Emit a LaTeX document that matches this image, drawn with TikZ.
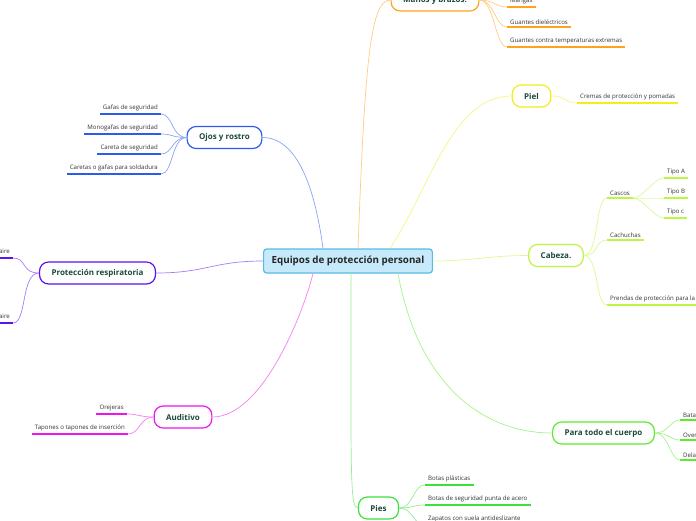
\documentclass[tikz,border=0pt]{standalone}
\usepackage{fontspec}
\setmainfont{Open Sans}
\usepackage{xcolor}

\definecolor{eqfill}{HTML}{C6EAF9}
\definecolor{eqline}{HTML}{56BDE9}
\definecolor{topictext}{HTML}{1B4A3A}
\definecolor{manosc}{HTML}{FFA21C}
\definecolor{ojosc}{HTML}{2D5BEA}
\definecolor{respc}{HTML}{5B12F2}
\definecolor{audic}{HTML}{EE14EE}
\definecolor{pielc}{HTML}{F2EE1A}
\definecolor{cabezac}{HTML}{BDF542}
\definecolor{cuerpoc}{HTML}{5CEB2E}
\definecolor{piesc}{HTML}{3DE03D}

\begin{document}
\begin{tikzpicture}[x=1pt,y=-1pt,
  mainidea/.style={draw=eqline, fill=eqfill, rounded corners=3pt, line width=1.2pt,
    font=\bfseries\fontsize{9.8}{11}\selectfont, text=black!85, inner xsep=8pt, minimum height=24pt},
  topic/.style={draw=#1, fill=white, rounded corners=9pt, line width=1.2pt,
    font=\bfseries\fontsize{8}{9}\selectfont, text=topictext, inner xsep=12pt, minimum height=22pt},
  sub/.style={font=\fontsize{6.1}{7}\selectfont, text=black!80, inner xsep=3pt, inner ysep=2.5pt},
  link/.style={draw=#1!55, line width=0.7pt},
  uline/.style={draw=#1, line width=1.8pt}]
\fill[white] (0,0) rectangle (696,520);
\useasboundingbox (0,0) rectangle (696,520);
\clip (0,0) rectangle (696,520);

\node[mainidea] (eq) at (348,261) {Equipos de protección personal};

\node[topic=manosc] (manos) at (435,0) {Manos y brazos.};
\node[topic=ojosc] (ojos) at (224.5,137.5) {Ojos y rostro};
\node[topic=respc] (resp) at (97.5,273) {Protección respiratoria};
\node[topic=audic] (audi) at (183,417) {Auditivo};
\node[topic=pielc] (piel) at (531.5,96) {Piel};
\node[topic=cabezac] (cabeza) at (556,255.5) {Cabeza.};
\node[topic=cuerpoc] (cuerpo) at (603.5,433) {Para todo el cuerpo};
\node[topic=piesc] (pies) at (378.5,508) {Pies};

\draw[link=manosc] ([xshift=10pt]eq.north) .. controls +(7,-189) and +(-20,0) .. (manos.west);
\draw[link=ojosc] ([xshift=-25pt]eq.north) .. controls +(-8,-60) and +(35,0) .. (ojos.east);
\draw[link=respc] (eq.west) .. controls +(-50,0) and +(50,0) .. (resp.east);
\draw[link=audic] ([xshift=-35pt]eq.south) .. controls +(-10,40) and +(50,0) .. (audi.east);
\draw[link=pielc] ([xshift=42pt]eq.north) .. controls +(40,-60) and +(-60,0) .. (piel.west);
\draw[link=cabezac] (eq.east) .. controls +(40,0) and +(-40,0) .. (cabeza.west);
\draw[link=cuerpoc] ([xshift=50pt]eq.south) .. controls +(20,110) and +(-70,0) .. (cuerpo.west);
\draw[link=piesc] ([xshift=3pt]eq.south) .. controls +(0,200) and +(-8,0) .. (pies.west);

\node[sub, anchor=south west] (mangas) at (507,7) {Mangas};
\node[sub, anchor=south west] (guadiel) at (507,27) {Guantes dieléctricos};
\node[sub, anchor=south west] (guatemp) at (507,47) {Guantes contra temperaturas extremas};
\foreach \c in {mangas,guadiel,guatemp}{
  \draw[link=manosc] (manos.east) .. controls +(15,0) and +(-12,0) .. (\c.south west);
  \draw[uline=manosc] (\c.south west) -- (\c.south east);
}

\node[sub, anchor=south east] (gafas) at (161,114) {Gafas de seguridad};
\node[sub, anchor=south east] (monogafas) at (161,134) {Monogafas de seguridad};
\node[sub, anchor=south east] (careta) at (161,154) {Careta de seguridad};
\node[sub, anchor=south east] (caretas) at (161,174) {Caretas o gafas para soldadura};
\foreach \c in {gafas,monogafas,careta,caretas}{
  \draw[link=ojosc] (ojos.west) .. controls +(-15,0) and +(12,0) .. (\c.south east);
  \draw[uline=ojosc] (\c.south east) -- (\c.south west);
}

\node[sub, anchor=south east] (purif) at (13,258) {Respiradores purificadores de aire};
\node[sub, anchor=south east] (sumin) at (13,323) {Respiradores con suministro de aire};
\foreach \c in {purif,sumin}{
  \draw[link=respc] (resp.west) .. controls +(-18,0) and +(14,0) .. (\c.south east);
  \draw[uline=respc] (\c.south east) -- (\c.south west);
}

\node[sub, anchor=south east] (orejeras) at (127,414) {Orejeras};
\node[sub, anchor=south east] (tapones) at (128,434) {Tapones o tapones de inserción};
\foreach \c in {orejeras,tapones}{
  \draw[link=audic] (audi.west) .. controls +(-14,0) and +(12,0) .. (\c.south east);
  \draw[uline=audic] (\c.south east) -- (\c.south west);
}

\node[sub, anchor=south west] (cremas) at (577,103) {Cremas de protección y pomadas};
\draw[link=pielc] (piel.east) .. controls +(15,0) and +(-12,0) .. (cremas.south west);
\draw[uline=pielc] (cremas.south west) -- (cremas.south east);

\node[sub, anchor=south west] (cascos) at (607,198) {Cascos};
\node[sub, anchor=south west] (cachuchas) at (607,240) {Cachuchas};
\node[sub, anchor=south west] (prendas) at (607,305) {Prendas de protección para la cabeza};
\foreach \c in {cascos,cachuchas,prendas}{
  \draw[link=cabezac] (cabeza.east) .. controls +(15,0) and +(-12,0) .. (\c.south west);
  \draw[uline=cabezac] (\c.south west) -- (\c.south east);
}
\node[sub, anchor=south west] (tipoa) at (664,178) {Tipo A};
\node[sub, anchor=south west] (tipob) at (664,198) {Tipo B};
\node[sub, anchor=south west] (tipoc) at (664,218) {Tipo c};
\foreach \c in {tipoa,tipob,tipoc}{
  \draw[link=cabezac] (cascos.south east) .. controls +(10,0) and +(-10,0) .. (\c.south west);
  \draw[uline=cabezac] (\c.south west) -- (\c.south east);
}

\node[sub, anchor=south west] (batas) at (680,420) {Batas};
\node[sub, anchor=south west] (overoles) at (680,440) {Overoles};
\node[sub, anchor=south west] (delantales) at (680,460) {Delantales};
\foreach \c in {batas,overoles,delantales}{
  \draw[link=cuerpoc] (cuerpo.east) .. controls +(14,0) and +(-10,0) .. (\c.south west);
  \draw[uline=cuerpoc] (\c.south west) -- (\c.south east);
}

\node[sub, anchor=south west] (botasp) at (425,485) {Botas plásticas};
\node[sub, anchor=south west] (botasa) at (425,505) {Botas de seguridad punta de acero};
\node[sub, anchor=south west] (zapatos) at (425,525) {Zapatos con suela antideslizante};
\foreach \c in {botasp,botasa,zapatos}{
  \draw[link=piesc] (pies.east) .. controls +(14,0) and +(-12,0) .. (\c.south west);
  \draw[uline=piesc] (\c.south west) -- (\c.south east);
}
\end{tikzpicture}
\end{document}
